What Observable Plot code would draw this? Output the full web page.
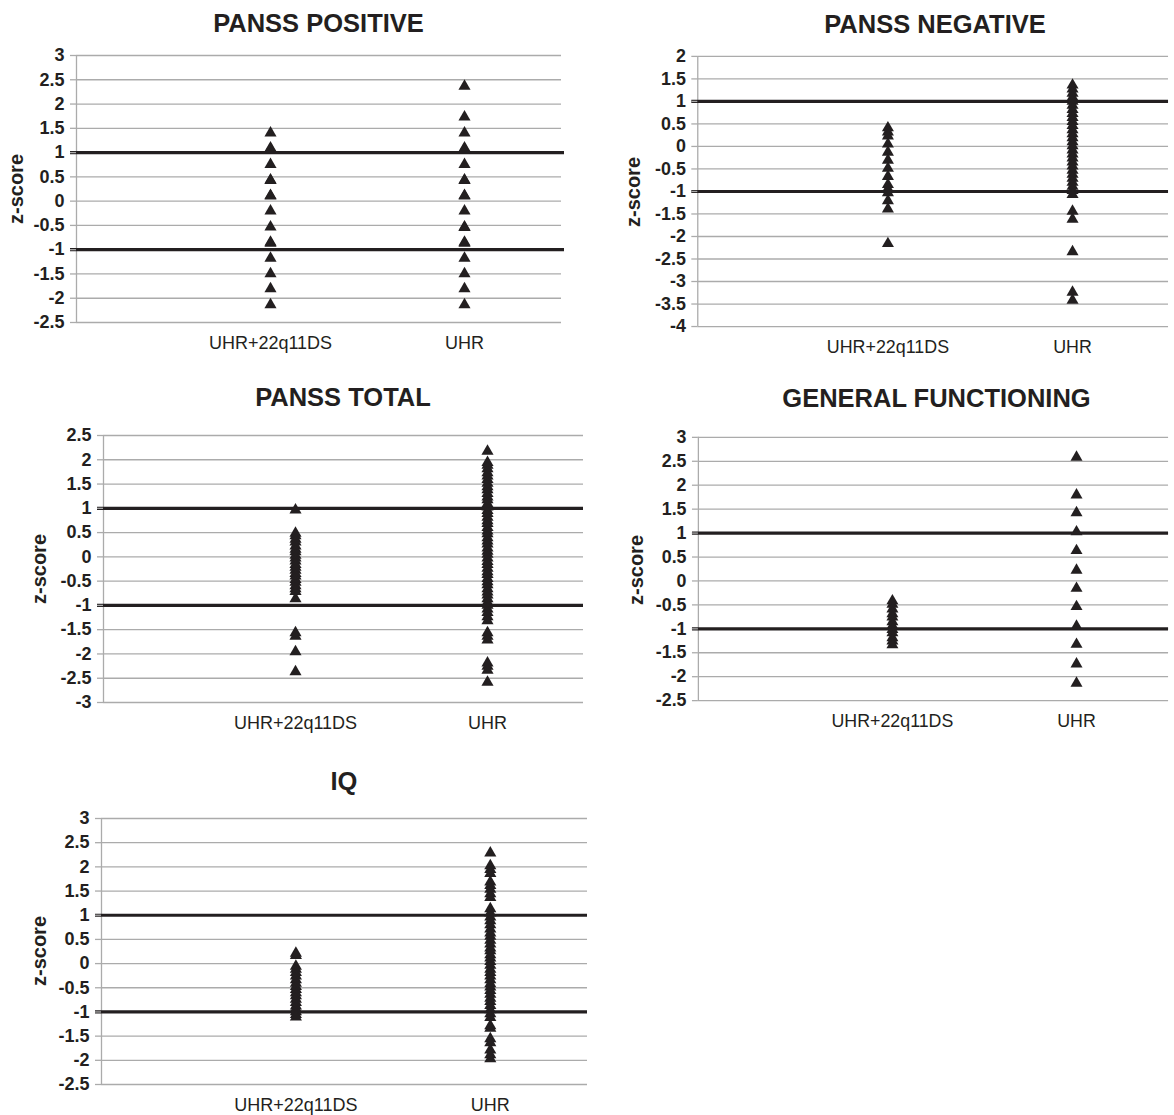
<!DOCTYPE html>
<html>
<head>
<meta charset="utf-8">
<script src="https://cdn.jsdelivr.net/npm/d3@7"></script>
<script src="https://cdn.jsdelivr.net/npm/@observablehq/plot@0.6"></script>
<style>
  html, body { margin: 0; padding: 0; background: #fff; }
  #root { position: relative; width: 1174px; height: 1115px; overflow: hidden; font-family: "Liberation Sans", Arial, sans-serif; color: #231f20; }
  .ptitle { position: absolute; width: 600px; text-align: center; font-weight: bold; font-size: 25.5px; line-height: 28px; white-space: nowrap; }
  .ylab { position: absolute; font-weight: bold; font-size: 20px; line-height: 24px; white-space: nowrap; transform: translate(-50%, -50%) rotate(-90deg); }
  .panel { position: absolute; }
</style>
</head>
<body>
<div id="root"></div>
<script>
// ---- Data ----
const categories = ["UHR+22q11DS", "UHR"];
const titles = ["PANSS POSITIVE", "PANSS NEGATIVE", "PANSS TOTAL", "GENERAL FUNCTIONING", "IQ"];
const yLabel = "z-score";
const referenceLines = [1, -1];

const ticksPos = [3, 2.5, 2, 1.5, 1, 0.5, 0, -0.5, -1, -1.5, -2, -2.5];
const ticksNeg = [2, 1.5, 1, 0.5, 0, -0.5, -1, -1.5, -2, -2.5, -3, -3.5, -4];
const ticksTot = [2.5, 2, 1.5, 1, 0.5, 0, -0.5, -1, -1.5, -2, -2.5, -3];
const ticksGaf = [3, 2.5, 2, 1.5, 1, 0.5, 0, -0.5, -1, -1.5, -2, -2.5];
const ticksIq  = [3, 2.5, 2, 1.5, 1, 0.5, 0, -0.5, -1, -1.5, -2, -2.5];

const posDual = [1.44, 1.11, 1.13, 0.79, 0.46, 0.47, 0.14, 0.15, -0.17, -0.50, -0.83, -0.81, -1.14, -1.46, -1.77, -2.10];
const posUHR  = [2.40, 1.77, 1.44, 1.11, 1.13, 0.79, 0.46, 0.47, 0.14, 0.15, -0.17, -0.50, -0.51, -0.83, -0.81, -1.14, -1.46, -1.77, -2.10];

const negDual = [0.45, 0.36, 0.27, 0.09, -0.09, -0.27, -0.45, -0.63, -0.81, -0.90, -0.99, -1.17, -1.35, -2.12];
const negUHR  = [1.40, 1.31, 1.22, 1.13, 1.04, 0.95, 0.86, 0.77, 0.68, 0.59, 0.50, 0.41, 0.32, 0.23, 0.14, 0.05, -0.04, -0.13, -0.22, -0.31, -0.40, -0.49, -0.58, -0.67, -0.76, -0.85, -0.94, -1.03, -1.40, -1.58, -2.30, -3.20, -3.38];

const totDual = [1.00, 0.52, 0.47, 0.40, 0.34, 0.26, 0.19, 0.14, 0.07, 0.01, -0.05, -0.12, -0.18, -0.24, -0.31, -0.36, -0.43, -0.49, -0.56, -0.62, -0.68, -0.83, -1.53, -1.60, -1.92, -2.33];
const totUHR  = [2.21, 1.98, 1.92, 1.85, 1.77, 1.70, 1.63, 1.55, 1.48, 1.42, 1.34, 1.27, 1.21, 1.13, 1.06, 0.99, 0.93, 0.85, 0.78, 0.72, 0.64, 0.57, 0.51, 0.43, 0.36, 0.30, 0.22, 0.15, 0.09, 0.01, -0.06, -0.12, -0.20, -0.27, -0.33, -0.41, -0.48, -0.54, -0.62, -0.69, -0.75, -0.83, -0.90, -0.96, -1.04, -1.11, -1.20, -1.28, -1.53, -1.60, -1.68, -2.15, -2.22, -2.30, -2.55];

const gafDual = [-0.38, -0.45, -0.55, -0.65, -0.72, -0.82, -0.90, -0.98, -1.05, -1.15, -1.22, -1.30];
const gafUHR  = [2.62, 1.83, 1.46, 1.06, 0.67, 0.26, -0.12, -0.50, -0.91, -1.29, -1.70, -2.10];

const iqDual = [0.25, 0.20, -0.02, -0.08, -0.15, -0.22, -0.30, -0.37, -0.44, -0.50, -0.57, -0.63, -0.70, -0.77, -0.84, -0.90, -0.96, -1.02, -1.07];
const iqUHR  = [2.32, 2.06, 1.98, 1.90, 1.72, 1.65, 1.57, 1.48, 1.40, 1.17, 1.08, 1.00, 0.92, 0.84, 0.75, 0.67, 0.60, 0.52, 0.44, 0.36, 0.30, 0.22, 0.15, 0.08, 0.00, -0.08, -0.15, -0.22, -0.30, -0.38, -0.45, -0.52, -0.60, -0.68, -0.75, -0.83, -0.92, -1.00, -1.08, -1.25, -1.30, -1.52, -1.60, -1.75, -1.85, -1.93];

// ---- Layout (positions / sizes) ----
const panels = [
  {title: titles[0], dual: posDual, uhr: posUHR, ticks: ticksPos, left: 0,   axisX: 76,  rightX: 561,  top: 55,  bottom: 322, xDomain: [0, 2.5],      titleOff: 32.5, ylabX: 16,  insetR: -3},
  {title: titles[1], dual: negDual, uhr: negUHR, ticks: ticksNeg, left: 590, axisX: 698, rightX: 1172, top: 56,  bottom: 328, xDomain: [-0.03, 2.52], titleOff: 32.5, ylabX: 633, insetR: 0},
  {title: titles[2], dual: totDual, uhr: totUHR, ticks: ticksTot, left: 0,   axisX: 103, rightX: 583,  top: 435, bottom: 702, xDomain: [0, 2.5],      titleOff: 38,   ylabX: 39,  insetR: 0},
  {title: titles[3], dual: gafDual, uhr: gafUHR, ticks: ticksGaf, left: 590, axisX: 699, rightX: 1174, top: 437, bottom: 703, xDomain: [-0.054, 2.5], titleOff: 39,   ylabX: 636, insetR: 0},
  {title: titles[4], dual: iqDual,  uhr: iqUHR,  ticks: ticksIq,  left: 0,   axisX: 101, rightX: 587,  top: 818, bottom: 1084, xDomain: [0, 2.5],     titleOff: 37,   ylabX: 39,  insetR: 0}
];

const root = document.getElementById("root");
const ink = "#231f20";
const gridColor = "#ababab";

for (const p of panels) {
  const rows = [
    ...p.dual.map(z => ({x: 1, z})),
    ...p.uhr.map(z => ({x: 2, z}))
  ];
  const marginTop = 15, marginBottom = 40, marginRight = 6;
  const marginLeft = p.axisX - p.left;
  const width = (p.rightX - p.left) + marginRight;
  const height = marginTop + (p.bottom - p.top) + marginBottom;
  const yDomain = [d3.min(p.ticks), d3.max(p.ticks)];

  const chart = Plot.plot({
    width, height, marginLeft, marginRight, marginTop, marginBottom,
    style: {fontFamily: '"Liberation Sans", Arial, sans-serif', background: "transparent", overflow: "visible", color: ink},
    x: {domain: p.xDomain},
    y: {domain: yDomain},
    marks: [
      Plot.ruleY(p.ticks, {stroke: gridColor, strokeWidth: 1.3}),
      Plot.ruleX([p.xDomain[0]], {stroke: gridColor, strokeWidth: 1.3}),
      Plot.ruleY(referenceLines, {stroke: ink, strokeWidth: 3.2, insetLeft: -6, insetRight: p.insetR}),
      Plot.axisY(p.ticks, {tickSize: 6, tickPadding: 6, stroke: gridColor, strokeWidth: 1.3, fill: ink, fontSize: 18, fontWeight: "bold", label: null, tickFormat: d => String(d)}),
      Plot.axisX([1, 2], {tickSize: 0, tickPadding: 14, fill: ink, fontSize: 18, label: null, tickFormat: d => categories[d - 1]}),
      Plot.dot(rows, {x: "x", y: "z", symbol: "triangle", r: 4.5, fill: ink, stroke: null, dy: 1.7})
    ]
  });

  const wrap = document.createElement("div");
  wrap.className = "panel";
  wrap.style.left = p.left + "px";
  wrap.style.top = (p.top - marginTop) + "px";
  wrap.appendChild(chart);
  root.appendChild(wrap);

  const t = document.createElement("div");
  t.className = "ptitle";
  t.textContent = p.title;
  t.style.left = ((p.axisX + p.rightX) / 2 - 300) + "px";
  t.style.top = (p.top - p.titleOff - 14) + "px";
  root.appendChild(t);

  const yl = document.createElement("div");
  yl.className = "ylab";
  yl.textContent = yLabel;
  yl.style.left = p.ylabX + "px";
  yl.style.top = ((p.top + p.bottom) / 2) + "px";
  root.appendChild(yl);
}
</script>
</body>
</html>
